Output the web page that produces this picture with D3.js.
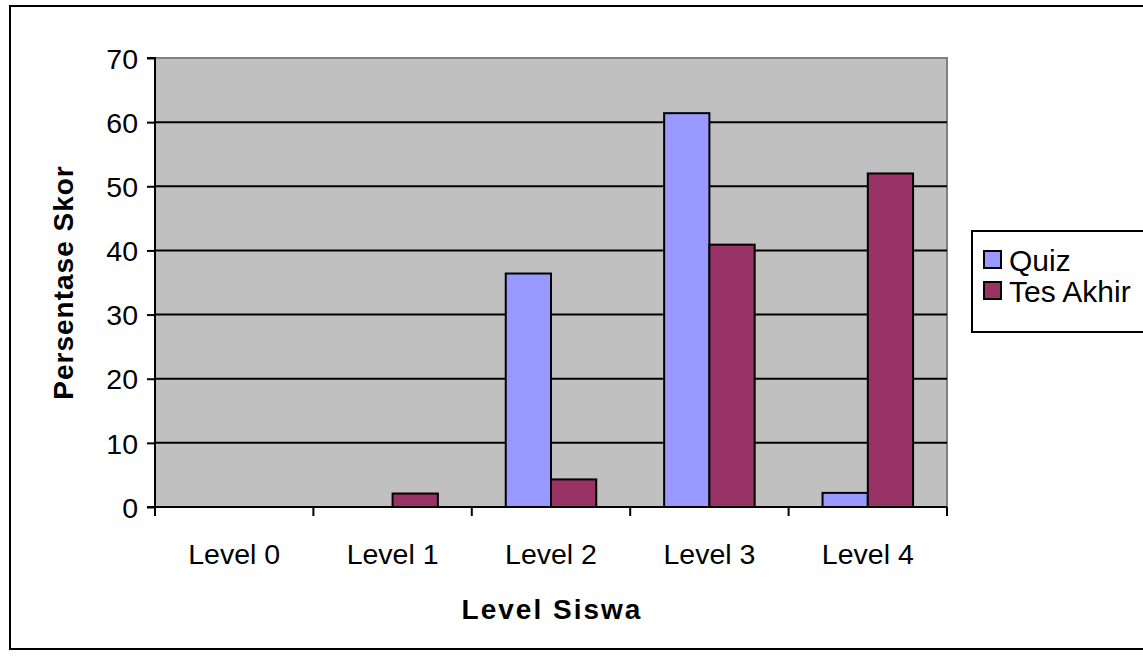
<!DOCTYPE html>
<html>
<head>
<meta charset="utf-8">
<script src="https://cdn.jsdelivr.net/npm/d3@7"></script>
<style>
  body { margin: 0; background: #fff; }
  text { font-family: Arial, "Liberation Sans", sans-serif; fill: #000; }
</style>
</head>
<body>
<div class="chart"></div>
<script>
var categories = ["Level 0", "Level 1", "Level 2", "Level 3", "Level 4"];
var seriesNames = ["Quiz", "Tes Akhir"];
var quiz = [0, 0, 36.4, 61.4, 2.2];
var tesAkhir = [0, 2.1, 4.3, 40.9, 52.0];
var yTicks = [0, 10, 20, 30, 40, 50, 60, 70];
var colors = ["#9999FF", "#993366"];

var width = 1143, height = 659;
var plot = {left: 155, top: 58, right: 947, bottom: 507};
var fontSize = "28.5px";

var svg = d3.select(".chart").append("svg")
    .attr("width", width)
    .attr("height", height);

// outer chart border
svg.append("rect")
    .attr("x", 10).attr("y", 6)
    .attr("width", 1160).attr("height", 643)
    .attr("fill", "#fff")
    .attr("stroke", "#000")
    .attr("stroke-width", 2);

var x = d3.scaleBand()
    .domain(categories)
    .range([plot.left, plot.right])
    .paddingInner(0).paddingOuter(0);

var y = d3.scaleLinear()
    .domain([0, 70])
    .range([plot.bottom, plot.top]);

// plot area
svg.append("rect")
    .attr("x", plot.left).attr("y", plot.top)
    .attr("width", plot.right - plot.left)
    .attr("height", plot.bottom - plot.top)
    .attr("fill", "#C0C0C0")
    .attr("stroke", "#808080")
    .attr("stroke-width", 2);

// gridlines
svg.selectAll(".grid")
  .data(yTicks.filter(function(d) { return d > 0 && d < 70; }))
  .enter().append("line")
    .attr("x1", plot.left).attr("x2", plot.right)
    .attr("y1", function(d) { return y(d); })
    .attr("y2", function(d) { return y(d); })
    .attr("stroke", "#000")
    .attr("stroke-width", 2);

// bars: gap width 150%
var bw = x.bandwidth() / 3.5;
var data = [];
categories.forEach(function(c, i) {
  data.push({cat: c, s: 0, v: quiz[i]});
  data.push({cat: c, s: 1, v: tesAkhir[i]});
});

svg.selectAll(".bar")
  .data(data.filter(function(d) { return d.v > 0; }))
  .enter().append("rect")
    .attr("x", function(d) { return x(d.cat) + bw * 0.75 + d.s * bw; })
    .attr("y", function(d) { return y(d.v); })
    .attr("width", bw)
    .attr("height", function(d) { return y(0) - y(d.v); })
    .attr("fill", function(d) { return colors[d.s]; })
    .attr("stroke", "#000")
    .attr("stroke-width", 2);

// y axis
var yAxis = d3.axisLeft(y).tickValues(yTicks).tickSize(8).tickPadding(9);
var gy = svg.append("g")
    .attr("transform", "translate(" + plot.left + ",0)")
    .call(yAxis);
gy.select(".domain").attr("stroke", "#000").attr("stroke-width", 2)
    .attr("d", "M-8," + plot.top + "H0V" + plot.bottom + "H-8");
gy.selectAll(".tick line").attr("stroke", "#000").attr("stroke-width", 2);
gy.selectAll(".tick text")
    .style("font-size", fontSize)
    .style("font-family", "Arial, 'Liberation Sans', sans-serif")
    .attr("dy", "0.36em")
    .attr("fill", "#000");

// x axis
var gx = svg.append("g")
    .attr("transform", "translate(0," + plot.bottom + ")");
gx.append("line")
    .attr("x1", plot.left).attr("x2", plot.right)
    .attr("stroke", "#000").attr("stroke-width", 2);
var xTickPos = categories.map(function(c) { return x(c); }).concat([plot.right]);
gx.selectAll(".xt")
  .data(xTickPos)
  .enter().append("line")
    .attr("x1", function(d) { return d; })
    .attr("x2", function(d) { return d; })
    .attr("y1", 0).attr("y2", 9)
    .attr("stroke", "#000").attr("stroke-width", 2);
gx.selectAll(".xl")
  .data(categories)
  .enter().append("text")
    .attr("x", function(d) { return x(d) + x.bandwidth() / 2; })
    .attr("y", 57)
    .attr("text-anchor", "middle")
    .style("font-size", fontSize)
    .text(function(d) { return d; });

// axis titles
svg.append("text")
    .attr("x", (plot.left + plot.right) / 2 + 1)
    .attr("y", 619)
    .attr("text-anchor", "middle")
    .style("font-size", "28px")
    .style("font-weight", "bold")
    .style("letter-spacing", "2px")
    .text("Level Siswa");

svg.append("text")
    .attr("transform", "translate(73," + ((plot.top + plot.bottom) / 2) + ") rotate(-90)")
    .attr("text-anchor", "middle")
    .style("font-size", "28px")
    .style("font-weight", "bold")
    .style("letter-spacing", "1px")
    .text("Persentase Skor");

// legend
var lg = svg.append("g");
lg.append("rect")
    .attr("x", 972).attr("y", 231)
    .attr("width", 200).attr("height", 101)
    .attr("fill", "#fff")
    .attr("stroke", "#000")
    .attr("stroke-width", 2);
seriesNames.forEach(function(name, i) {
  var cy = 260 + i * 31;
  lg.append("rect")
    .attr("x", 984).attr("y", cy - 9)
    .attr("width", 17).attr("height", 17)
    .attr("fill", colors[i])
    .attr("stroke", "#000")
    .attr("stroke-width", 2);
  lg.append("text")
    .attr("x", 1009).attr("y", cy + 11)
    .style("font-size", "30px")
    .text(name);
});
</script>
</body>
</html>
